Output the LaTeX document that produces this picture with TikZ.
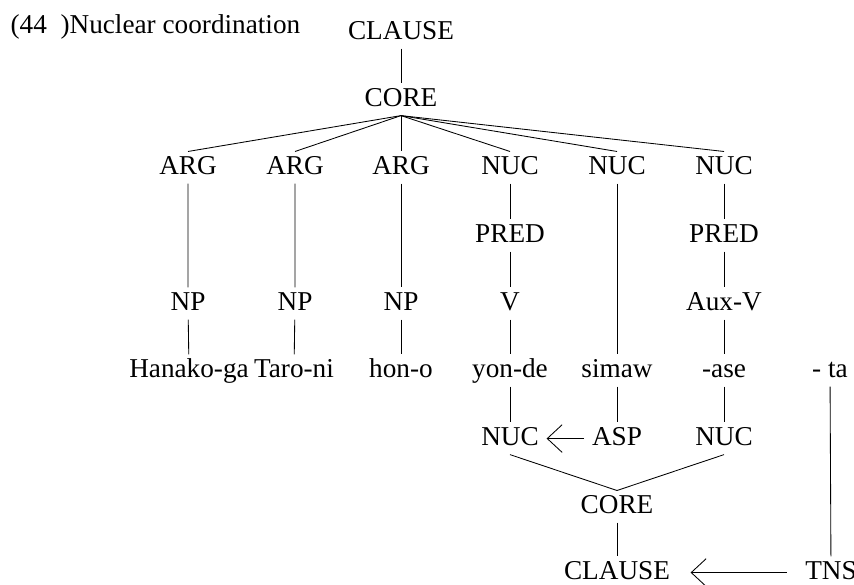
\documentclass[tikz,border=0pt]{standalone}
\usepackage{fontspec}
\setmainfont{Liberation Serif}
\usetikzlibrary{arrows.meta}
\begin{document}
\begin{tikzpicture}[x=0.47pt,y=-0.47pt,
		every node/.style={font=\fontsize{12.8}{15}\selectfont,inner sep=1.5pt,text height=9pt,text depth=2.7pt,yshift=-1.2pt},
		branch/.style={draw,line width=0.4pt},
		linkarrow/.style={draw,line width=0.4pt,-{Straight Barb[length=7pt,width=13pt]}}]
		\useasboundingbox (0,0) rectangle (854,585);
		
		\node[anchor=west] (title) at (7,24) {(44~~)Nuclear coordination};
		\node (clause) at (401,30) {CLAUSE};
		\node (core) at (401,97) {CORE};
		\node (arga) at (188,165) {ARG};
		\node (argb) at (295,165) {ARG};
		\node (argc) at (401,165) {ARG};
		\node (nuca) at (510,165) {NUC};
		\node (nucb) at (617,165) {NUC};
		\node (nucc) at (724,165) {NUC};
		\node (preda) at (510,233) {PRED};
		\node (predc) at (724,233) {PRED};
		\node (npa) at (188,301) {NP};
		\node (npb) at (295,301) {NP};
		\node (npc) at (401,301) {NP};
		\node (verb) at (510,301) {V};
		\node (auxv) at (724,301) {Aux-V};
		\node (hanako) at (189,368) {Hanako-ga};
		\node (taro) at (294,368) {Taro-ni};
		\node (hon) at (401,368) {hon-o};
		\node (yonde) at (510,368) {yon-de};
		\node (simaw) at (617,368) {simaw};
		\node (ase) at (724,368) {-ase};
		\node (ta) at (830,368) {- ta};
		\node (nucd) at (510,436) {NUC};
		\node (asp) at (617,436) {ASP};
		\node (nuce) at (724,436) {NUC};
		\node (coreb) at (617,504) {CORE};
		\node (clauseb) at (617,570) {CLAUSE};
		\node (tns) at (831,570) {TNS};
		
		\draw[branch] (clause) -- (core);
		\foreach \d in {arga,argb,argc,nuca,nucb,nucc}
		\draw[branch] (core.south) -- (\d.north);
		\draw[branch] (arga) -- (npa) -- (hanako);
		\draw[branch] (argb) -- (npb) -- (taro);
		\draw[branch] (argc) -- (npc) -- (hon);
		\draw[branch] (nuca) -- (preda) -- (verb) -- (yonde) -- (nucd);
		\draw[branch] (nucb) -- (simaw) -- (asp);
		\draw[branch] (nucc) -- (predc) -- (auxv) -- (ase) -- (nuce);
		\draw[branch] (nucd.south) -- (coreb.north);
		\draw[branch] (nuce.south) -- (coreb.north);
		\draw[branch] (coreb) -- (clauseb);
		\draw[branch] (ta) -- (tns);
		
		\draw[linkarrow] ([xshift=-2pt]asp.west) -- ([xshift=2pt]nucd.east);
		\draw[linkarrow] ([xshift=-7pt]tns.west) -- ([xshift=8pt]clauseb.east);
		\end{tikzpicture}
\end{document}
